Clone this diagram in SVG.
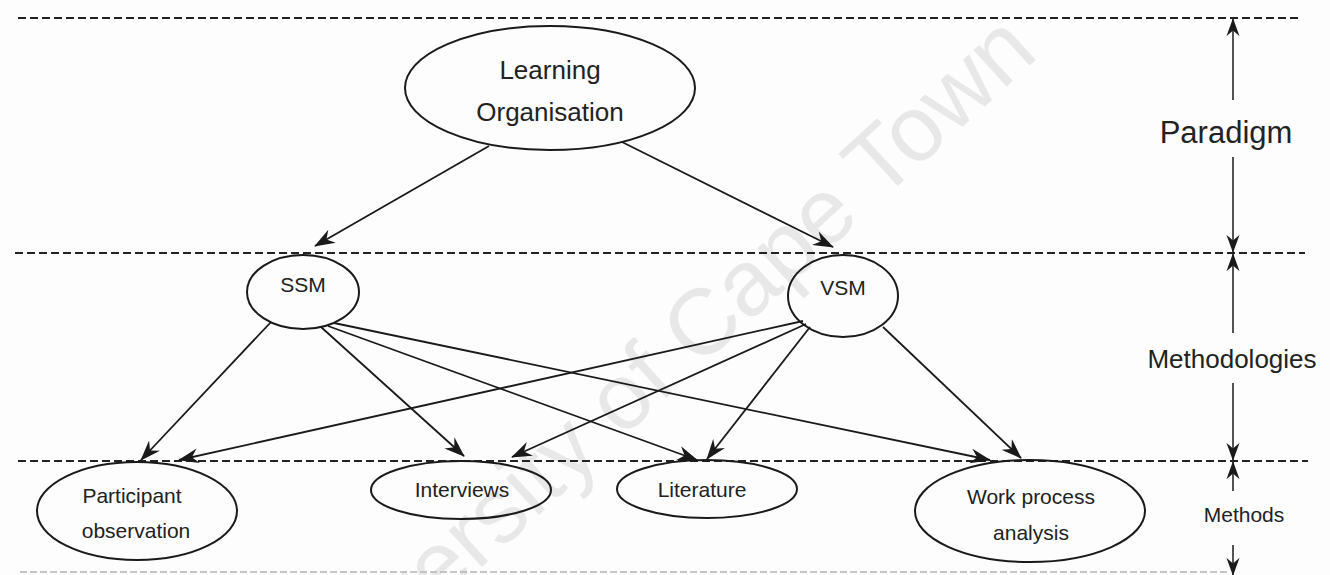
<svg xmlns="http://www.w3.org/2000/svg" width="1330" height="575" viewBox="0 0 1330 575">
  <style>
    .bg { fill: #fdfdfd; }
    .band { stroke: #222; stroke-width: 1.8; stroke-dasharray: 8 4; fill: none; }
    .band-faint { stroke: #b4b4b4; stroke-width: 1.5; stroke-dasharray: 7 3; fill: none; }
    .node ellipse { fill: none; stroke: #1a1a1a; stroke-width: 2; }
    .lbl { font-family: "Liberation Sans", Arial, sans-serif; fill: #222; text-anchor: middle; }
    .edge { stroke: #1a1a1a; stroke-width: 1.8; fill: none; marker-end: url(#arr); }
    .scale { stroke: #1a1a1a; stroke-width: 1.5; fill: none; marker-end: url(#arr-s); }
    .mark { font-family: "Liberation Sans", Arial, sans-serif; fill: #e8e8e8; }
  </style>
  <defs>
    <marker id="arr" viewBox="0 0 22 16" refX="21" refY="8" markerWidth="21" markerHeight="15" markerUnits="userSpaceOnUse" orient="auto">
      <path d="M0,0 L22,8 L0,16 L7,8 z" fill="#1a1a1a"/>
    </marker>
    <marker id="arr-s" viewBox="0 0 22 16" refX="21" refY="8" markerWidth="18" markerHeight="14" markerUnits="userSpaceOnUse" orient="auto">
      <path d="M0,0 L22,8 L0,16 L7,8 z" fill="#1a1a1a"/>
    </marker>
  </defs>

  <rect class="bg" x="0" y="0" width="1330" height="575"/>

  <!-- faint diagonal stamp behind the drawing -->
  <text class="mark" x="302" y="732" font-size="93" transform="rotate(-42.5 302 732)">University of Cape Town</text>

  <!-- level separators -->
  <g id="bands">
    <line class="band" x1="18" y1="18" x2="1299" y2="18"/>
    <line class="band" x1="15" y1="253" x2="1305" y2="253"/>
    <line class="band" x1="18" y1="461" x2="1308" y2="461"/>
    <line class="band-faint" x1="20" y1="572" x2="1230" y2="572"/>
  </g>

  <!-- level labels with extent arrows -->
  <g id="level-paradigm">
    <line class="scale" x1="1233" y1="100" x2="1233" y2="19"/>
    <line class="scale" x1="1233" y1="157" x2="1233" y2="252"/>
    <text class="lbl" x="1226" y="143" font-size="31">Paradigm</text>
  </g>
  <g id="level-methodologies">
    <line class="scale" x1="1233" y1="333" x2="1233" y2="254"/>
    <line class="scale" x1="1233" y1="383" x2="1233" y2="460"/>
    <text class="lbl" x="1232" y="368" font-size="26">Methodologies</text>
  </g>
  <g id="level-methods">
    <line class="scale" x1="1233" y1="491" x2="1233" y2="462"/>
    <line class="scale" x1="1233" y1="545" x2="1233" y2="575"/>
    <text class="lbl" x="1244" y="522" font-size="21">Methods</text>
  </g>

  <!-- connectors -->
  <g id="connectors">
    <line class="edge" x1="489" y1="146" x2="315" y2="246"/>
    <line class="edge" x1="622" y1="142" x2="833" y2="247"/>
    <line class="edge" x1="271" y1="322" x2="141" y2="460"/>
    <line class="edge" x1="803" y1="321" x2="179" y2="460"/>
    <line class="edge" x1="321" y1="327" x2="464" y2="456"/>
    <line class="edge" x1="328" y1="326" x2="697" y2="460"/>
    <line class="edge" x1="334" y1="323" x2="990" y2="460"/>
    <line class="edge" x1="806" y1="324" x2="512" y2="457"/>
    <line class="edge" x1="810" y1="327" x2="707" y2="459"/>
    <line class="edge" x1="883" y1="327" x2="1021" y2="458"/>
  </g>

  <!-- nodes -->
  <g id="learning-organisation" class="node">
    <ellipse cx="550" cy="88" rx="145" ry="62"/>
    <text class="lbl" x="550" y="79" font-size="26">Learning</text>
    <text class="lbl" x="550" y="121" font-size="26">Organisation</text>
  </g>
  <g id="ssm" class="node">
    <ellipse cx="303" cy="292" rx="56" ry="37"/>
    <text class="lbl" x="303" y="292" font-size="21">SSM</text>
  </g>
  <g id="vsm" class="node">
    <ellipse cx="843" cy="296" rx="55" ry="41"/>
    <text class="lbl" x="843" y="295" font-size="21">VSM</text>
  </g>
  <g id="participant-observation" class="node">
    <ellipse cx="137" cy="511" rx="100" ry="49"/>
    <text class="lbl" x="132" y="503" font-size="21">Participant</text>
    <text class="lbl" x="136" y="538" font-size="21">observation</text>
  </g>
  <g id="interviews" class="node">
    <ellipse cx="461" cy="490" rx="90" ry="29"/>
    <text class="lbl" x="462" y="497" font-size="21">Interviews</text>
  </g>
  <g id="literature" class="node">
    <ellipse cx="707" cy="489" rx="90" ry="29"/>
    <text class="lbl" x="702" y="497" font-size="21">Literature</text>
  </g>
  <g id="work-process-analysis" class="node">
    <ellipse cx="1030" cy="511" rx="115" ry="51"/>
    <text class="lbl" x="1031" y="504" font-size="21">Work process</text>
    <text class="lbl" x="1031" y="540" font-size="21">analysis</text>
  </g>
</svg>
